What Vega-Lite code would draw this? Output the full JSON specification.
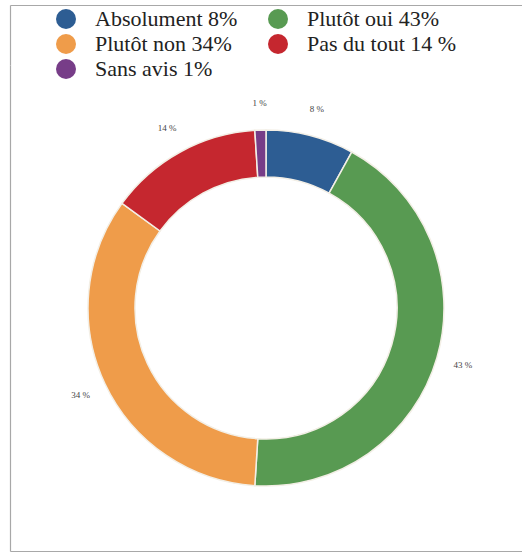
{
  "$schema": "https://vega.github.io/schema/vega-lite/v6.json",
  "autosize": "none",
  "width": 512,
  "height": 486,
  "padding": {"left": 10, "top": 65, "right": 0, "bottom": 1},
  "background": "white",
  "config": {
    "view": {"stroke": null},
    "font": "Liberation Serif"
  },
  "data": {
    "values": [
      {"reponse": "Absolument 8%", "pourcentage": 8, "etiquette": "8 %", "rang": 1},
      {"reponse": "Plutôt oui 43%", "pourcentage": 43, "etiquette": "43 %", "rang": 2},
      {"reponse": "Plutôt non 34%", "pourcentage": 34, "etiquette": "34 %", "rang": 3},
      {"reponse": "Pas du tout 14 %", "pourcentage": 14, "etiquette": "14 %", "rang": 4},
      {"reponse": "Sans avis 1%", "pourcentage": 1, "etiquette": "1 %", "rang": 5}
    ]
  },
  "resolve": {"axis": {"x": "independent"}},
  "layer": [
    {
      "mark": {"type": "arc", "outerRadius": 178, "innerRadius": 131, "stroke": "#f3efe6", "strokeWidth": 1.5},
      "encoding": {
        "theta": {"field": "pourcentage", "type": "quantitative", "stack": true},
        "order": {"field": "rang", "type": "quantitative"},
        "color": {
          "field": "reponse",
          "type": "nominal",
          "sort": ["Absolument 8%", "Plutôt non 34%", "Sans avis 1%", "Plutôt oui 43%", "Pas du tout 14 %"],
          "scale": {
            "domain": ["Absolument 8%", "Plutôt non 34%", "Sans avis 1%", "Plutôt oui 43%", "Pas du tout 14 %"],
            "range": ["#2d5d93", "#ef9c4a", "#773d88", "#589a52", "#c5272f"]
          },
          "legend": {
            "title": null,
            "orient": "none",
            "legendX": 45,
            "legendY": -57,
            "columns": 2,
            "columnPadding": 29,
            "rowPadding": 3,
            "symbolType": "circle",
            "symbolSize": 400,
            "symbolStrokeWidth": 0,
            "symbolOpacity": 1,
            "labelFont": "Liberation Serif",
            "labelFontSize": 22,
            "labelColor": "#222222",
            "labelOffset": 18,
            "labelLimit": 300
          }
        }
      }
    },
    {
      "mark": {"type": "text", "radius": 205, "fontSize": 9, "font": "Liberation Serif", "fill": "#444444"},
      "encoding": {
        "theta": {"field": "pourcentage", "type": "quantitative", "stack": true},
        "order": {"field": "rang", "type": "quantitative"},
        "text": {"field": "etiquette", "type": "nominal"}
      }
    },
    {
      "mark": {"type": "point", "opacity": 0},
      "encoding": {
        "x": {
          "field": "pourcentage",
          "type": "quantitative",
          "axis": {"orient": "top", "offset": 60, "domain": true, "domainColor": "#a8a8a8", "domainWidth": 1.2, "ticks": true, "values": [0], "tickSize": -60, "tickColor": "#a8a8a8", "tickWidth": 1.2, "labels": true, "labelExpr": "''", "labelFontSize": 1, "title": null, "grid": false}
        },
        "y": {
          "field": "pourcentage",
          "type": "quantitative",
          "axis": {"orient": "left", "domainColor": "#a8a8a8", "domainWidth": 1.2, "ticks": false, "labels": false, "title": null, "grid": false}
        }
      }
    },
    {
      "mark": {"type": "point", "opacity": 0},
      "encoding": {
        "x": {
          "field": "pourcentage",
          "type": "quantitative",
          "axis": {"orient": "bottom", "domain": true, "domainColor": "#a8a8a8", "domainWidth": 1.2, "ticks": false, "labels": false, "title": null, "grid": false}
        }
      }
    }
  ]
}
